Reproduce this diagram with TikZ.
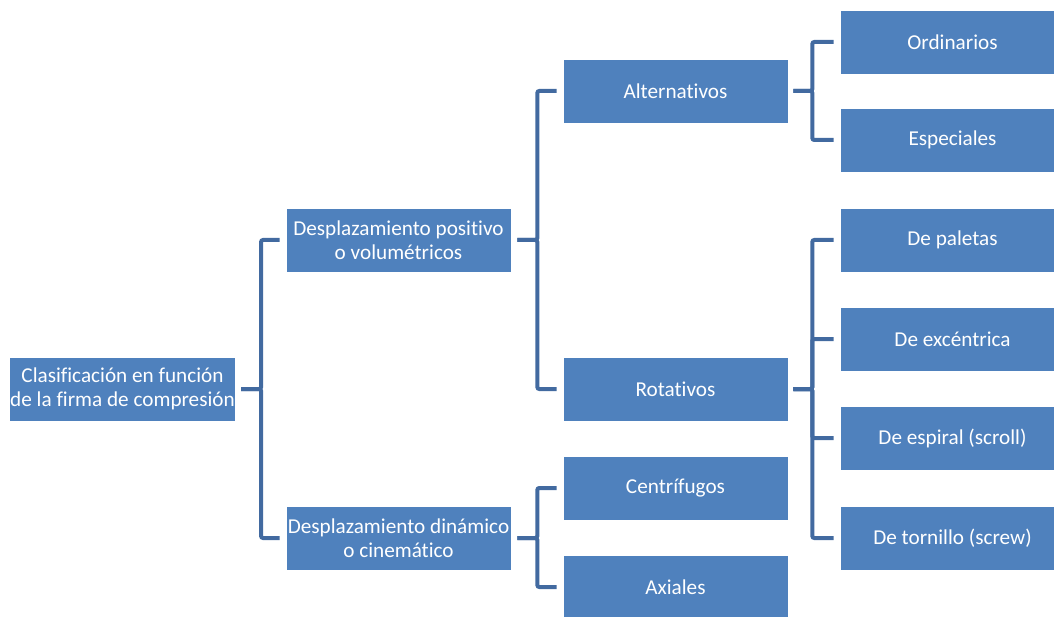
\documentclass[tikz,border=0pt]{standalone}
\usepackage{fontspec}
\setmainfont{Carlito}[Ligatures=NoCommon]
\usepackage{tikz}
\usetikzlibrary{positioning}
\definecolor{boxblue}{RGB}{79,129,189}
\definecolor{lineblue}{RGB}{66,106,160}

\begin{document}
\begin{tikzpicture}[x=1pt, y=-1pt,
    box/.style={fill=boxblue, draw=white, line width=0.6pt, text=white,
        minimum width=225pt, minimum height=64pt, inner sep=1pt,
        align=center, font=\fontsize{21.2}{24}\selectfont},
    conn/.style={draw=lineblue, line width=4pt, rounded corners=2pt}]
    \clip (0,0) rectangle (1054,617);
    \useasboundingbox (0,0) rectangle (1054,617);

    % Root
    \node[box] (root) at (122.5,389) {Clasificación en función\\de la firma de compresión};

    % First level
    \node[box] (pos) at (398.5,240) {Desplazamiento positivo\\o volumétricos};
    \node[box] (din) at (398.5,538) {Desplazamiento dinámico\\o cinemático};

    % Second level
    \node[box] (alt) at (675.5,91) {Alternativos};
    \node[box] (rot) at (675.5,389) {Rotativos};
    \node[box] (cen) at (675.5,488) {Centrífugos};
    \node[box] (axi) at (675.5,587) {Axiales};

    % Third level
    \node[box] (ord) at (952.5,42) {Ordinarios};
    \node[box] (esp) at (952.5,140) {Especiales};
    \node[box] (pal) at (952.5,240) {De paletas};
    \node[box] (exc) at (952.5,339) {De excéntrica};
    \node[box] (spi) at (952.5,438) {De espiral (scroll)};
    \node[box] (tor) at (952.5,538) {De tornillo (screw)};

    % Brackets
    \foreach \p/\c in {root/pos, root/din}
        \draw[conn] ([xshift=5pt]\p.east) -- ++(20pt,0) |- ([xshift=-6pt]\c.west);
    \foreach \p/\c in {pos/alt, pos/rot, din/cen, din/axi}
        \draw[conn] ([xshift=6pt]\p.east) -- ++(20pt,0) |- ([xshift=-6pt]\c.west);
    \foreach \p/\c in {alt/ord, alt/esp, rot/pal, rot/exc, rot/spi, rot/tor}
        \draw[conn] ([xshift=5pt]\p.east) -- ++(19pt,0) |- ([xshift=-6pt]\c.west);
\end{tikzpicture}
\end{document}
